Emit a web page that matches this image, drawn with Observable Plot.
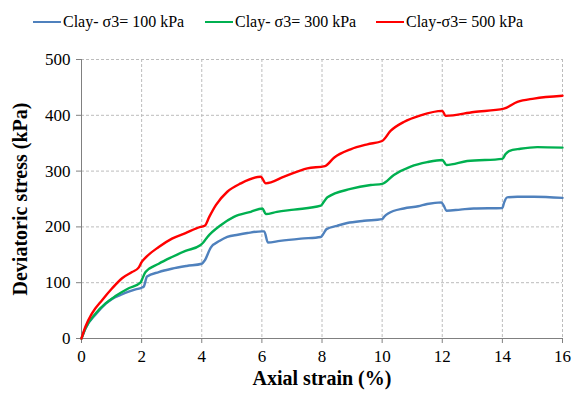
<!DOCTYPE html>
<html>
<head>
<meta charset="utf-8">
<script src="https://cdn.jsdelivr.net/npm/d3@7"></script>
<script src="https://cdn.jsdelivr.net/npm/@observablehq/plot@0.6"></script>
<style>
  body { margin: 0; background: #fff; font-family: "Liberation Serif", "Times New Roman", serif; }
  #legend { position: relative; width: 579px; height: 38px; }
  .li { position: absolute; top: 12px; height: 20px; display: flex; align-items: center; font-size: 16px; white-space: nowrap; color: #000; }
  .sw { width: 28px; height: 0; border-top: 2.5px solid; margin-right: 2px; }
  #chart svg text { font-family: "Liberation Serif", "Times New Roman", serif !important; }
</style>
</head>
<body>
<div id="legend"></div>
<div id="chart"></div>
<script>
const seriesNames = ["Clay- σ3= 100 kPa", "Clay- σ3= 300 kPa", "Clay-σ3= 500 kPa"];
const seriesColors = ["#4f81bd", "#00b050", "#ff0000"];
const xTicks = [0, 2, 4, 6, 8, 10, 12, 14, 16];
const yTicks = [0, 100, 200, 300, 400, 500];

const strain100 = [0, 0.13, 0.47, 0.8, 1.02, 1.3, 1.57, 1.8, 2.0, 2.07, 2.18, 2.57, 3.0, 3.5, 4.0, 4.1, 4.3, 4.6, 4.85, 5.2, 5.52, 6.0, 6.08, 6.2, 6.6, 7.3, 7.96, 8.05, 8.15, 8.5, 8.84, 9.4, 10.0, 10.08, 10.2, 10.72, 11.2, 11.5, 11.97, 12.05, 12.14, 12.6, 13.05, 14.0, 14.06, 14.16, 14.5, 15.05, 16];
const stress100 = [0, 18, 43, 62, 71, 78, 84, 88, 91, 93, 111, 119, 125, 130, 134, 140, 163, 175, 182, 186, 189, 192, 192, 172, 175, 179, 182, 188, 196, 202, 207, 211, 214, 219, 224, 233, 237, 241, 244, 238, 229, 231, 233, 234, 244, 253, 254, 254, 252];

const strain300 = [0, 0.13, 0.47, 0.8, 1.13, 1.57, 1.96, 2.03, 2.13, 2.57, 3.01, 3.46, 3.95, 4.05, 4.19, 4.63, 5.07, 5.63, 6.02, 6.13, 6.5, 7.07, 7.96, 8.05, 8.18, 8.95, 9.62, 10.0, 10.39, 10.95, 11.5, 12.0, 12.14, 12.83, 14.0, 14.1, 14.22, 14.6, 15.16, 16];
const stress300 = [0, 18, 45, 63, 76, 90, 100, 108, 119, 134, 146, 157, 167, 172, 182, 203, 218, 227, 233, 223, 227, 231, 238, 244, 253, 268, 275, 277, 293, 308, 316, 320, 311, 318, 322, 330, 336, 340, 343, 342];

const strain500 = [0, 0.13, 0.35, 0.69, 1.02, 1.35, 1.68, 1.9, 2.0, 2.13, 2.57, 3.01, 3.46, 3.96, 4.1, 4.25, 4.47, 4.85, 5.3, 5.96, 6.13, 6.74, 7.51, 8.1, 8.4, 8.95, 9.51, 10.0, 10.28, 10.72, 11.28, 12.0, 12.11, 13.05, 14.05, 14.5, 15.05, 16];
const stress500 = [0, 21, 45, 69, 90, 108, 119, 127, 137, 145, 164, 179, 189, 200, 202, 218, 239, 263, 278, 290, 278, 290, 305, 309, 324, 339, 348, 354, 372, 388, 400, 408, 399, 406, 412, 424, 430, 435];

const strains = [strain100, strain300, strain500];
const stresses = [stress100, stress300, stress500];
const data = [];
strains.forEach((xs, i) => xs.forEach((x, j) => data.push({series: seriesNames[i], strain: x, stress: stresses[i][j]})));

// legend
const legendLeft = [33, 205, 376];
const legend = document.getElementById("legend");
seriesNames.forEach((name, i) => {
  const item = document.createElement("div");
  item.className = "li";
  item.style.left = legendLeft[i] + "px";
  const sw = document.createElement("span");
  sw.className = "sw";
  sw.style.borderTopColor = seriesColors[i];
  const t = document.createElement("span");
  t.textContent = name;
  item.appendChild(sw);
  item.appendChild(t);
  legend.appendChild(item);
});

const chart = Plot.plot({
  width: 579,
  height: 356,
  marginTop: 21,
  marginBottom: 56,
  marginLeft: 81,
  marginRight: 17,
  style: {fontFamily: "'Liberation Serif', 'Times New Roman', serif", fontSize: "17px", color: "#000", background: "#fff"},
  x: {domain: [0, 16]},
  y: {domain: [0, 500]},
  color: {domain: seriesNames, range: seriesColors},
  marks: [
    Plot.gridX(xTicks.slice(1), {stroke: "#bcbcbc", strokeOpacity: 1, strokeDasharray: "3,2"}),
    Plot.gridY(yTicks.slice(1), {stroke: "#bcbcbc", strokeOpacity: 1, strokeDasharray: "3,2"}),
    Plot.axisX(xTicks, {tickSize: 5, tickPadding: 6, stroke: "#808080", label: null, tickFormat: d => d, fontSize: 17}),
    Plot.axisY(yTicks, {tickSize: 5, tickPadding: 6, stroke: "#808080", label: null, tickFormat: d => d, fontSize: 17}),
    Plot.ruleX([0], {stroke: "#808080"}),
    Plot.ruleY([0], {stroke: "#808080"}),
    Plot.line(data, {x: "strain", y: "stress", z: "series", stroke: "series", strokeWidth: 2.4, curve: "monotone-x"}),
    Plot.text(["Axial strain (%)"], {frameAnchor: "bottom", dy: 46, fontWeight: "bold", fontSize: 20, fill: "#000"}),
    Plot.text(["Deviatoric stress (kPa)"], {frameAnchor: "left", dx: -61, rotate: -90, textAnchor: "middle", fontWeight: "bold", fontSize: 20, fill: "#000"})
  ]
});
document.getElementById("chart").appendChild(chart);
</script>
</body>
</html>
